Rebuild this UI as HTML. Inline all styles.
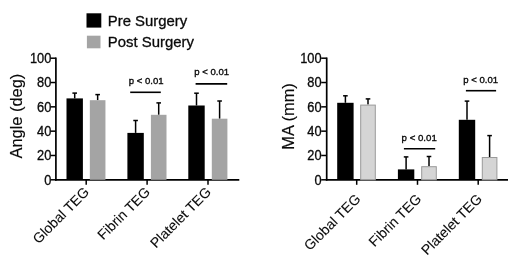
<!DOCTYPE html>
<html><head><meta charset="utf-8"><style>
html,body{margin:0;padding:0;background:#fff;width:520px;height:267px;overflow:hidden}
svg{display:block;filter:grayscale(1)}
text{font-family:"Liberation Sans", sans-serif;fill:#0a0a0a;stroke:#0a0a0a;stroke-width:0.3px}
</style></head><body>
<svg width="520" height="267" viewBox="0 0 520 267">
<line x1="55.9" y1="57.50" x2="55.9" y2="180.65" stroke="#000" stroke-width="1.7"/>
<line x1="55.05" y1="179.8" x2="239.3" y2="179.8" stroke="#000" stroke-width="1.7"/>
<line x1="50.4" y1="179.80" x2="55.9" y2="179.80" stroke="#000" stroke-width="1.5"/>
<text x="44.16" y="184.70" font-size="13.8" textLength="7.14" lengthAdjust="spacingAndGlyphs" style="stroke-width:0.3px">0</text>
<line x1="50.4" y1="155.48" x2="55.9" y2="155.48" stroke="#000" stroke-width="1.5"/>
<text x="37.03" y="160.38" font-size="13.8" textLength="14.27" lengthAdjust="spacingAndGlyphs" style="stroke-width:0.3px">20</text>
<line x1="50.4" y1="131.16" x2="55.9" y2="131.16" stroke="#000" stroke-width="1.5"/>
<text x="37.03" y="136.06" font-size="13.8" textLength="14.27" lengthAdjust="spacingAndGlyphs" style="stroke-width:0.3px">40</text>
<line x1="50.4" y1="106.84" x2="55.9" y2="106.84" stroke="#000" stroke-width="1.5"/>
<text x="37.03" y="111.74" font-size="13.8" textLength="14.27" lengthAdjust="spacingAndGlyphs" style="stroke-width:0.3px">60</text>
<line x1="50.4" y1="82.52" x2="55.9" y2="82.52" stroke="#000" stroke-width="1.5"/>
<text x="37.03" y="87.42" font-size="13.8" textLength="14.27" lengthAdjust="spacingAndGlyphs" style="stroke-width:0.3px">80</text>
<line x1="50.4" y1="58.20" x2="55.9" y2="58.20" stroke="#000" stroke-width="1.5"/>
<text x="29.89" y="63.10" font-size="13.8" textLength="21.41" lengthAdjust="spacingAndGlyphs" style="stroke-width:0.3px">100</text>
<line x1="86.2" y1="179.8" x2="86.2" y2="184.8" stroke="#000" stroke-width="1.5"/>
<line x1="147.1" y1="179.8" x2="147.1" y2="184.8" stroke="#000" stroke-width="1.5"/>
<line x1="208.0" y1="179.8" x2="208.0" y2="184.8" stroke="#000" stroke-width="1.5"/>
<text transform="translate(22,116.1) rotate(-90)" text-anchor="middle" font-size="16.4" style="stroke-width:0.15px">Angle (deg)</text>
<line x1="74.70" y1="93.10" x2="74.70" y2="98.40" stroke="#000" stroke-width="1.5"/>
<line x1="72.40" y1="93.10" x2="77.00" y2="93.10" stroke="#000" stroke-width="1.5"/>
<rect x="66.50" y="98.40" width="16.40" height="81.40" fill="#000"/>
<line x1="97.65" y1="94.60" x2="97.65" y2="100.20" stroke="#000" stroke-width="1.5"/>
<line x1="95.35" y1="94.60" x2="99.95" y2="94.60" stroke="#000" stroke-width="1.5"/>
<rect x="89.85" y="100.20" width="15.60" height="79.60" fill="#a4a4a4"/>
<line x1="135.60" y1="120.50" x2="135.60" y2="132.90" stroke="#000" stroke-width="1.5"/>
<line x1="133.30" y1="120.50" x2="137.90" y2="120.50" stroke="#000" stroke-width="1.5"/>
<rect x="127.40" y="132.90" width="16.40" height="46.90" fill="#000"/>
<line x1="158.70" y1="102.90" x2="158.70" y2="114.80" stroke="#000" stroke-width="1.5"/>
<line x1="156.40" y1="102.90" x2="161.00" y2="102.90" stroke="#000" stroke-width="1.5"/>
<rect x="150.90" y="114.80" width="15.60" height="65.00" fill="#a4a4a4"/>
<line x1="196.50" y1="93.20" x2="196.50" y2="105.50" stroke="#000" stroke-width="1.5"/>
<line x1="194.20" y1="93.20" x2="198.80" y2="93.20" stroke="#000" stroke-width="1.5"/>
<rect x="188.30" y="105.50" width="16.40" height="74.30" fill="#000"/>
<line x1="219.60" y1="101.00" x2="219.60" y2="118.70" stroke="#000" stroke-width="1.5"/>
<line x1="217.30" y1="101.00" x2="221.90" y2="101.00" stroke="#000" stroke-width="1.5"/>
<rect x="211.80" y="118.70" width="15.60" height="61.10" fill="#a4a4a4"/>
<line x1="130.2" y1="92.3" x2="160.8" y2="92.3" stroke="#000" stroke-width="1.6"/>
<text x="128.80" y="83.50" font-size="9.5" style="stroke-width:0.35px" textLength="34.80" lengthAdjust="spacingAndGlyphs">p &lt; 0.01</text>
<line x1="195.6" y1="83.9" x2="227.2" y2="83.9" stroke="#000" stroke-width="1.6"/>
<text x="194.20" y="74.50" font-size="9.5" style="stroke-width:0.35px" textLength="34.90" lengthAdjust="spacingAndGlyphs">p &lt; 0.01</text>
<text transform="translate(90,192.9) rotate(-45)" text-anchor="end" font-size="14" style="stroke-width:0.1px">Global TEG</text>
<text transform="translate(151.0,192.9) rotate(-45)" text-anchor="end" font-size="14" style="stroke-width:0.1px">Fibrin TEG</text>
<text transform="translate(211.9,192.9) rotate(-45)" text-anchor="end" font-size="14" style="stroke-width:0.1px">Platelet TEG</text>
<line x1="326.7" y1="57.50" x2="326.7" y2="180.65" stroke="#000" stroke-width="1.7"/>
<line x1="325.84999999999997" y1="179.8" x2="508" y2="179.8" stroke="#000" stroke-width="1.7"/>
<line x1="321.2" y1="179.80" x2="326.7" y2="179.80" stroke="#000" stroke-width="1.5"/>
<text x="314.46" y="184.70" font-size="13.8" textLength="7.14" lengthAdjust="spacingAndGlyphs" style="stroke-width:0.3px">0</text>
<line x1="321.2" y1="155.48" x2="326.7" y2="155.48" stroke="#000" stroke-width="1.5"/>
<text x="307.33" y="160.38" font-size="13.8" textLength="14.27" lengthAdjust="spacingAndGlyphs" style="stroke-width:0.3px">20</text>
<line x1="321.2" y1="131.16" x2="326.7" y2="131.16" stroke="#000" stroke-width="1.5"/>
<text x="307.33" y="136.06" font-size="13.8" textLength="14.27" lengthAdjust="spacingAndGlyphs" style="stroke-width:0.3px">40</text>
<line x1="321.2" y1="106.84" x2="326.7" y2="106.84" stroke="#000" stroke-width="1.5"/>
<text x="307.33" y="111.74" font-size="13.8" textLength="14.27" lengthAdjust="spacingAndGlyphs" style="stroke-width:0.3px">60</text>
<line x1="321.2" y1="82.52" x2="326.7" y2="82.52" stroke="#000" stroke-width="1.5"/>
<text x="307.33" y="87.42" font-size="13.8" textLength="14.27" lengthAdjust="spacingAndGlyphs" style="stroke-width:0.3px">80</text>
<line x1="321.2" y1="58.20" x2="326.7" y2="58.20" stroke="#000" stroke-width="1.5"/>
<text x="300.19" y="63.10" font-size="13.8" textLength="21.41" lengthAdjust="spacingAndGlyphs" style="stroke-width:0.3px">100</text>
<line x1="356.7" y1="179.8" x2="356.7" y2="184.8" stroke="#000" stroke-width="1.5"/>
<line x1="417.5" y1="179.8" x2="417.5" y2="184.8" stroke="#000" stroke-width="1.5"/>
<line x1="478.2" y1="179.8" x2="478.2" y2="184.8" stroke="#000" stroke-width="1.5"/>
<text transform="translate(294.2,116.4) rotate(-90)" text-anchor="middle" font-size="16.4" style="stroke-width:0.15px">MA (mm)</text>
<line x1="345.40" y1="95.80" x2="345.40" y2="102.80" stroke="#000" stroke-width="1.5"/>
<line x1="343.10" y1="95.80" x2="347.70" y2="95.80" stroke="#000" stroke-width="1.5"/>
<rect x="337.20" y="102.80" width="16.40" height="77.00" fill="#000"/>
<line x1="368.00" y1="98.90" x2="368.00" y2="104.60" stroke="#000" stroke-width="1.5"/>
<line x1="365.70" y1="98.90" x2="370.30" y2="98.90" stroke="#000" stroke-width="1.5"/>
<rect x="360.70" y="105.10" width="14.60" height="74.70" fill="#d5d5d5" stroke="#9a9a9a" stroke-width="1"/>
<line x1="406.10" y1="156.90" x2="406.10" y2="169.40" stroke="#000" stroke-width="1.5"/>
<line x1="403.80" y1="156.90" x2="408.40" y2="156.90" stroke="#000" stroke-width="1.5"/>
<rect x="397.90" y="169.40" width="16.40" height="10.40" fill="#000"/>
<line x1="429.00" y1="156.50" x2="429.00" y2="166.20" stroke="#000" stroke-width="1.5"/>
<line x1="426.70" y1="156.50" x2="431.30" y2="156.50" stroke="#000" stroke-width="1.5"/>
<rect x="421.70" y="166.70" width="14.60" height="13.10" fill="#d5d5d5" stroke="#9a9a9a" stroke-width="1"/>
<line x1="467.00" y1="101.10" x2="467.00" y2="119.80" stroke="#000" stroke-width="1.5"/>
<line x1="464.70" y1="101.10" x2="469.30" y2="101.10" stroke="#000" stroke-width="1.5"/>
<rect x="458.80" y="119.80" width="16.40" height="60.00" fill="#000"/>
<line x1="489.60" y1="135.60" x2="489.60" y2="157.00" stroke="#000" stroke-width="1.5"/>
<line x1="487.30" y1="135.60" x2="491.90" y2="135.60" stroke="#000" stroke-width="1.5"/>
<rect x="482.30" y="157.50" width="14.60" height="22.30" fill="#d5d5d5" stroke="#9a9a9a" stroke-width="1"/>
<line x1="403.9" y1="148.7" x2="435.2" y2="148.7" stroke="#000" stroke-width="1.6"/>
<text x="401.60" y="141.00" font-size="9.5" style="stroke-width:0.35px" textLength="35.20" lengthAdjust="spacingAndGlyphs">p &lt; 0.01</text>
<line x1="465.9" y1="90.7" x2="496.1" y2="90.7" stroke="#000" stroke-width="1.6"/>
<text x="463.20" y="83.00" font-size="9.5" style="stroke-width:0.35px" textLength="34.90" lengthAdjust="spacingAndGlyphs">p &lt; 0.01</text>
<text transform="translate(361.4,199.8) rotate(-45)" text-anchor="end" font-size="14" style="stroke-width:0.1px">Global TEG</text>
<text transform="translate(422.2,199.8) rotate(-45)" text-anchor="end" font-size="14" style="stroke-width:0.1px">Fibrin TEG</text>
<text transform="translate(482.9,199.8) rotate(-45)" text-anchor="end" font-size="14" style="stroke-width:0.1px">Platelet TEG</text>
<rect x="86.5" y="13.3" width="14.8" height="14.3" fill="#000"/>
<rect x="86.9" y="35.7" width="13.6" height="12.6" fill="#a4a4a4"/>
<text x="107.8" y="26.2" font-size="14.9">Pre Surgery</text>
<text x="107.8" y="46.9" font-size="14.9">Post Surgery</text>
</svg>
</body></html>
